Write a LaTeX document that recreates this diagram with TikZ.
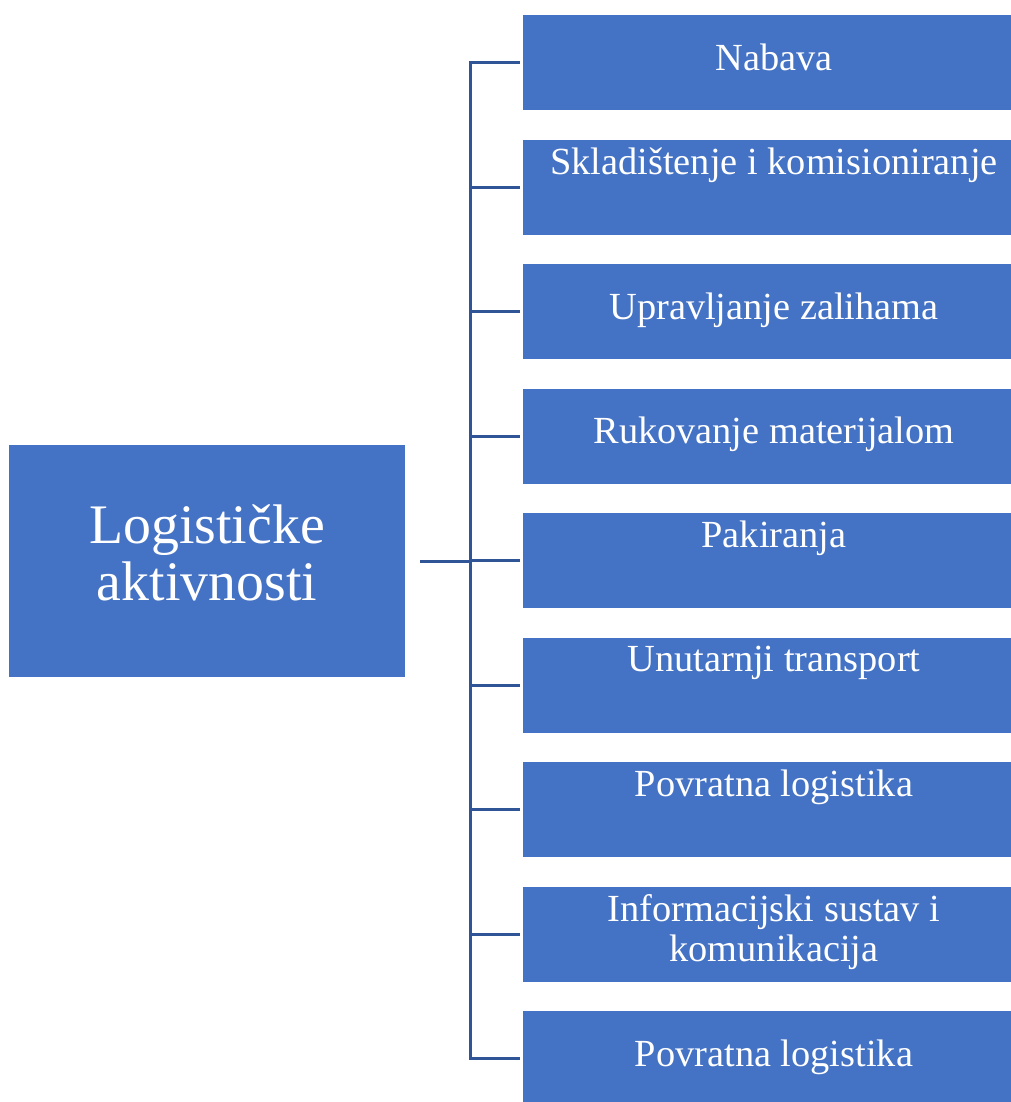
\documentclass[tikz,border=0pt]{standalone}
\usepackage{fontspec}
\setmainfont{Liberation Serif}
\usepackage{tikz}
\usetikzlibrary{shapes.geometric,arrows}
\definecolor{plava}{HTML}{4472C4}
\definecolor{tamnoplava}{HTML}{2F5597}
\tikzstyle{kutija} = [rectangle, fill=plava, text=white, minimum width=502bp, minimum height=95bp, inner sep=0pt, align=center, font=\fontsize{38.5}{40}\selectfont, execute at begin node=\strut]
\tikzstyle{glavna} = [rectangle, fill=plava, text=white, minimum width=396bp, minimum height=232bp, inner sep=0pt, align=center, font=\fontsize{56}{57}\selectfont]
\tikzstyle{veza} = [line width=3bp, tamnoplava]

\begin{document}
\begin{tikzpicture}[x=1bp,y=-1bp]
            \useasboundingbox (0,0) rectangle (1011,1102);
            \clip (0,0) rectangle (1011,1102);
            \node[glavna] (logistika) at (207,561) {Logističke\\aktivnosti\strut};
            \node[kutija] (nabava) at (774,62.5) {Nabava};
            \node[kutija] (skladistenje) at (774,187) {Skladištenje i komisioniranje\\\strut};
            \node[kutija] (zalihe) at (774,311.5) {Upravljanje zalihama};
            \node[kutija] (rukovanje) at (774,436) {Rukovanje materijalom};
            \node[kutija] (pakiranja) at (774,560.5) {Pakiranja\\\strut};
            \node[kutija] (transport) at (774,685) {Unutarnji transport\\\strut};
            \node[kutija] (povratna) at (774,809.5) {Povratna logistika\\\strut};
            \node[kutija] (informacije) at (774,934) {Informacijski sustav i\\komunikacija};
            \node[kutija] (povratnadva) at (774,1058.5) {Povratna logistika};
            % sabirnica
            \coordinate (sabirnica) at (470,561);
            \draw[veza, shorten <=15bp] (logistika.east) -- (sabirnica);
            \foreach \k in {nabava,skladistenje,zalihe,rukovanje,pakiranja,transport,povratna,informacije,povratnadva}
                \draw[veza, shorten >=3bp] (sabirnica) |- (\k.west);
        \end{tikzpicture}
\end{document}
